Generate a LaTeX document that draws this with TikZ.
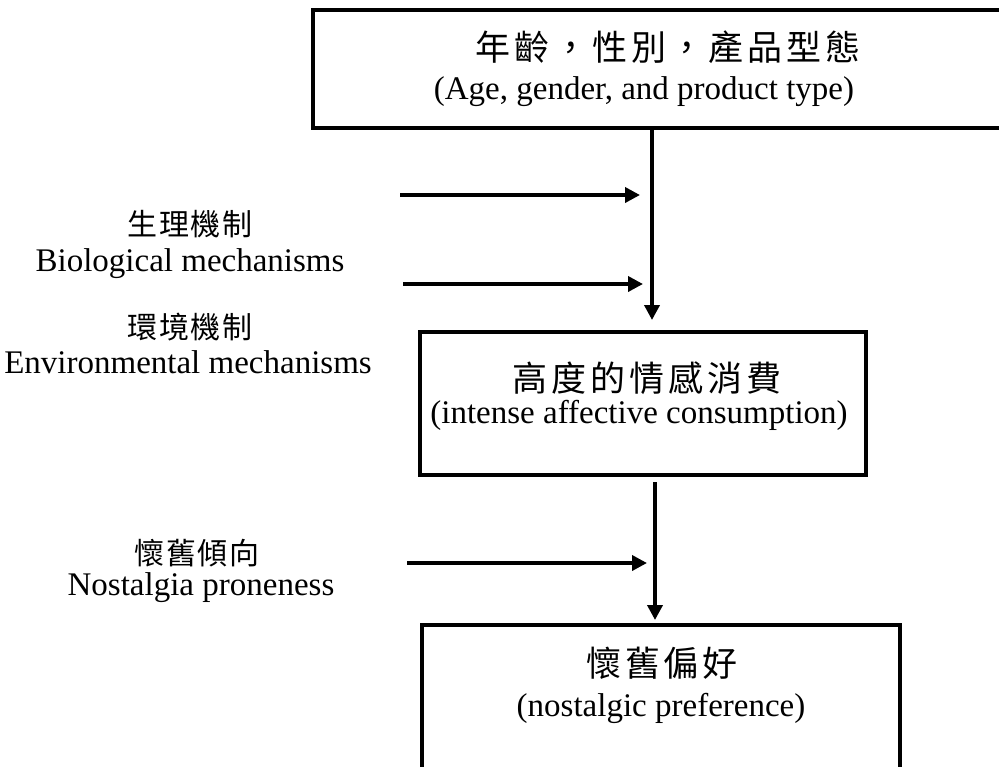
\documentclass[tikz,border=0pt]{standalone}
\usepackage{fontspec}
\setmainfont{Liberation Serif}
\newfontfamily\cjkbox[LetterSpace=11]{Noto Sans CJK TC}
\newfontfamily\cjklab[LetterSpace=6]{Noto Sans CJK TC}
\usetikzlibrary{arrows.meta}
\tikzset{
  box/.style={draw=black, line width=2pt, inner sep=0pt, fill=none},
  entxt/.style={inner sep=0pt, font=\fontsize{16.5}{18}\selectfont},
  zhtxt/.style={inner sep=0pt, font=\cjkbox\fontsize{17.5}{19}\selectfont},
  zhlab/.style={inner sep=0pt, font=\cjklab\fontsize{15}{17}\selectfont},
  arr/.style={line width=1.8pt, -{Triangle[length=7.5pt,width=7.5pt]}}
}
\begin{document}
\begin{tikzpicture}[x=0.5pt,y=-0.5pt]
  \clip (0,0) rectangle (999,766);
  \fill[white] (0,0) rectangle (999,766);

  % boxes
  \node[box, minimum width=348.5pt, minimum height=59pt] (top) at (661.5,69) {};
  \node[box, minimum width=223pt, minimum height=71.5pt] (mid) at (643,403.5) {};
  \node[box, minimum width=239pt, minimum height=87.5pt] (bot) at (661,712.5) {};

  % box captions
  \node[zhtxt] (topZh) at (668,47) {年齡，性別，產品型態};
  \node[entxt] (topEn) at (644,92) {(Age, gender, and product type)};
  \node[zhtxt] (midZh) at (647,378) {高度的情感消費};
  \node[entxt] (midEn) at (639,415) {(intense affective consumption)};
  \node[zhtxt] (botZh) at (662,663) {懷舊偏好};
  \node[entxt] (botEn) at (661,708) {(nostalgic preference)};

  % side labels
  \node[zhlab] (bioZh) at (190,224) {生理機制};
  \node[entxt] (bioEn) at (190,264) {Biological mechanisms};
  \node[zhlab] (envZh) at (190,327) {環境機制};
  \node[entxt] (envEn) at (188,362) {Environmental mechanisms};
  \node[zhlab] (nosZh) at (197,553) {懷舊傾向};
  \node[entxt] (nosEn) at (201,588) {Nostalgia proneness};

  % main flow
  \coordinate (spineA) at (652,0);
  \coordinate (spineB) at (655,0);
  \draw[arr, shorten >=5pt] (spineA |- top.south) -- (spineA |- mid.north);
  \draw[arr, shorten <=2.5pt, shorten >=1.5pt] (spineB |- mid.south) -- (spineB |- bot.north);

  % moderator arrows
  \coordinate (bioS) at (400,195);
  \coordinate (bioE) at (640,195);
  \coordinate (envS) at (403,284);
  \coordinate (envE) at (643,284);
  \coordinate (nosS) at (407,563);
  \coordinate (nosE) at (647,563);
  \draw[arr] (bioS) -- (bioE);
  \draw[arr] (envS) -- (envE);
  \draw[arr] (nosS) -- (nosE);
\end{tikzpicture}
\end{document}
